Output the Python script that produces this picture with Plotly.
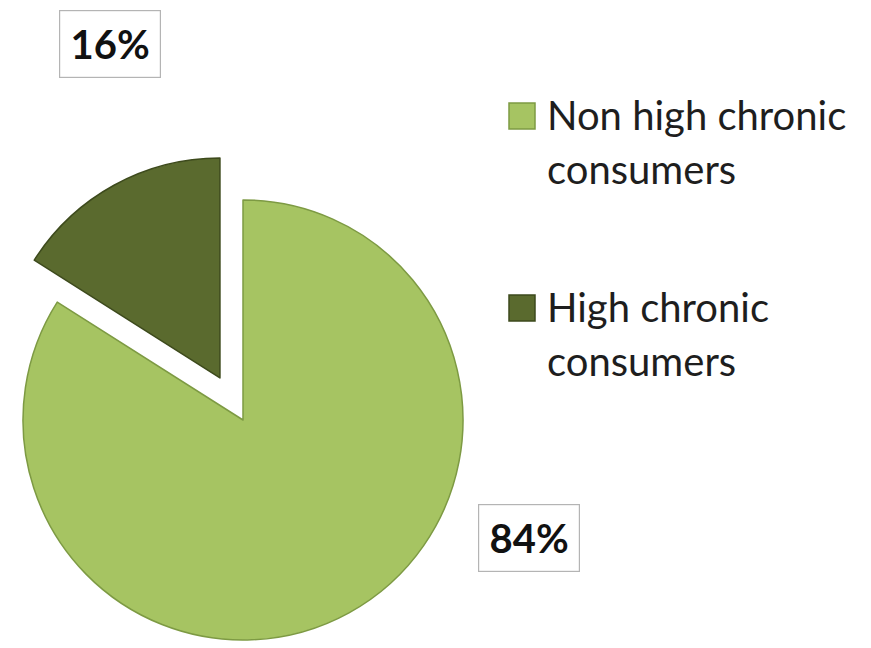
import math
import plotly.graph_objects as go

# Data
categories = ["Non high chronic consumers", "High chronic consumers"]
legend_lines = [["Non high chronic", "consumers"], ["High chronic", "consumers"]]
shares = [84, 16]

# Styling
colors = ["#a6c462", "#5a6a2e"]
edge_colors = ["#7d9a43", "#3d4a1c"]
transparent = "rgba(0,0,0,0)"
font_family = "Lato, 'Open Sans', sans-serif"

W, H = 871, 648
R = 220              # pie radius (px)
CX, CY = 243, 420    # centre of the main pie (px)
PULL = 0.218         # explode distance of the small slice, as a fraction of R


def px_domain(cx, cy, r):
    return dict(x=[max(0, (cx - r) / W), min(1, (cx + r) / W)],
                y=[max(0, 1 - (cy + r) / H), min(1, 1 - (cy - r) / H)])


# Exploded slice direction = its mid-angle (clockwise from 12 o'clock)
total = sum(shares)
mid_angle = 2 * math.pi * (shares[0] + shares[1] / 2) / total
dx = math.sin(mid_angle) * PULL * R
dy = -math.cos(mid_angle) * PULL * R
ex_cx, ex_cy = CX + dx, CY + dy

fig = go.Figure()

# Main (non-exploded) slice
fig.add_trace(go.Pie(
    labels=categories, values=shares, sort=False, direction="clockwise", rotation=0,
    marker=dict(colors=[colors[0], transparent],
                line=dict(color=[edge_colors[0], transparent], width=[1.5, 0])),
    textinfo="none", hoverinfo="label+percent", showlegend=False,
    domain=px_domain(CX, CY, R),
))

# Exploded slice
fig.add_trace(go.Pie(
    labels=categories, values=shares, sort=False, direction="clockwise", rotation=0,
    marker=dict(colors=[transparent, colors[1]],
                line=dict(color=[transparent, edge_colors[1]], width=[0, 1.5])),
    textinfo="none", hoverinfo="label+percent", showlegend=False,
    domain=px_domain(ex_cx, ex_cy, R),
))

annotations = []
shapes = []

# Boxed percentage labels
label_pos = [(529, 538), (110, 44)]
for v, (lx, ly) in zip(shares, label_pos):
    annotations.append(dict(
        text=f"<b>{v}%</b>", x=lx / W, y=1 - ly / H, xref="paper", yref="paper",
        xanchor="center", yanchor="middle", showarrow=False,
        font=dict(family=font_family, size=40, color="#111111"),
        width=100, height=66, borderpad=0, borderwidth=1.2, bordercolor="#b4b4b4",
        bgcolor="white",
    ))

# Legend
legend_tops = [103, 295]
line_gap = 54
for lines, c, ec, top in zip(legend_lines, colors, edge_colors, legend_tops):
    shapes.append(dict(type="rect", xref="paper", yref="paper",
                       x0=509 / W, x1=535 / W, y0=1 - (top + 26) / H, y1=1 - top / H,
                       fillcolor=c, line=dict(color=ec, width=1.5)))
    for i, line in enumerate(lines):
        baseline = top + 26 + i * line_gap
        annotations.append(dict(
            text=line, x=545 / W, y=1 - (baseline - 14) / H, xref="paper", yref="paper",
            xanchor="left", yanchor="middle", showarrow=False, align="left",
            font=dict(family=font_family, size=40, color="#1e1e1e"),
        ))

fig.update_layout(
    width=W, height=H, margin=dict(l=0, r=0, t=0, b=0),
    paper_bgcolor="white", plot_bgcolor="white",
    annotations=annotations, shapes=shapes, showlegend=False,
)

fig.write_html("out.html")
